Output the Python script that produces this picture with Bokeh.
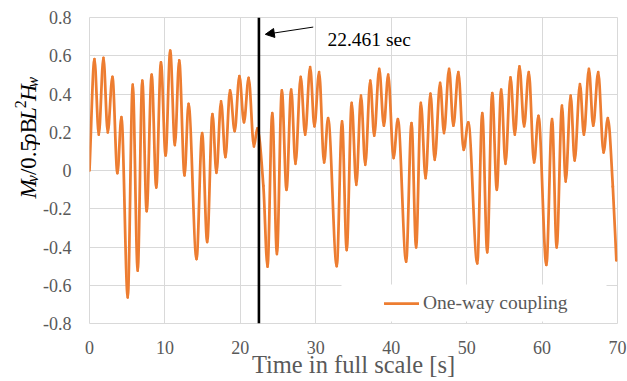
import math
from bokeh.plotting import figure
from bokeh.layouts import row
from bokeh.core.properties import value
from bokeh.models import (Range1d, FixedTicker, NumeralTickFormatter, Span, Label,
                          Arrow, NormalHead, Legend, LegendItem, BoxAnnotation,
                          ColumnDataSource)
from bokeh.embed import file_html
from bokeh.resources import INLINE

# ---------------- data ----------------
time_s = [
    0.00, 0.66, 1.23, 1.85, 2.42, 3.04, 3.70, 4.23, 5.07, 5.73,
    6.39, 7.00, 7.58, 8.24, 8.85, 9.47, 10.09, 10.70, 11.32, 11.89,
    12.60, 13.13, 14.19, 14.93, 15.60, 16.30, 16.83, 17.44, 18.02, 18.63,
    19.25, 19.87, 20.48, 21.10, 21.80, 22.25, 23.05, 23.60, 24.23, 24.85,
    25.50, 26.12, 26.74, 27.31, 28.00, 28.59, 29.25, 29.82, 30.44, 31.10,
    31.63, 32.78, 33.48, 34.10, 34.76, 35.37, 35.99, 36.56, 37.22, 37.75,
    38.41, 39.03, 39.60, 40.31, 40.88, 41.98, 42.69, 43.30, 43.93, 44.56,
    45.20, 45.77, 46.48, 47.00, 47.67, 48.24, 48.90, 49.60, 50.22, 51.41,
    52.07, 52.73, 53.39, 54.00, 54.58, 55.15, 55.81, 56.39, 57.00, 57.62,
    58.24, 58.94, 59.52, 60.57, 61.32, 61.94, 62.64, 63.13, 63.79, 64.32,
    65.02, 65.55, 66.21, 66.78, 67.44, 68.15, 68.72, 69.38, 69.85,
]
moment = [
    0.000, 0.583, 0.187, 0.589, 0.199, 0.489, -0.014, 0.279, -0.664, 0.449,
    -0.524, 0.470, -0.213, 0.501, -0.089, 0.566, 0.079, 0.627, 0.133, 0.576,
    -0.026, 0.348, -0.463, 0.196, -0.374, 0.295, -0.012, 0.362, 0.070, 0.419,
    0.206, 0.493, 0.252, 0.484, 0.126, 0.220, -0.080, -0.503, 0.300, -0.437,
    0.419, -0.101, 0.423, 0.035, 0.489, 0.187, 0.541, 0.231, 0.515, 0.042,
    0.274, -0.500, 0.257, -0.416, 0.353, -0.075, 0.391, 0.030, 0.470, 0.182,
    0.531, 0.234, 0.501, 0.065, 0.269, -0.477, 0.248, -0.402, 0.353, -0.040,
    0.402, 0.056, 0.458, 0.196, 0.531, 0.234, 0.514, 0.108, 0.252, -0.486,
    0.300, -0.428, 0.405, -0.101, 0.423, 0.035, 0.487, 0.187, 0.545, 0.231,
    0.514, 0.042, 0.286, -0.494, 0.269, -0.402, 0.339, -0.058, 0.391, 0.052,
    0.452, 0.187, 0.531, 0.234, 0.514, 0.094, 0.274, -0.084, -0.470,
]
assert len(time_s) == len(moment)

x_ticks = [0, 10, 20, 30, 40, 50, 60, 70]
y_ticks = [-0.8, -0.6, -0.4, -0.2, 0, 0.2, 0.4, 0.6, 0.8]
event_time = 22.461
event_label = f"{event_time} sec"
series_name = "One-way coupling"
x_title = "Time in full scale [s]"
# y title pieces: (text, font style, role)
y_title_parts = [("M", "italic", "main"), ("v", "italic", "sub"), ("/0.5", "normal", "main"),
                 ("ρ", "italic", "main"), ("B", "normal", "main"), ("L", "italic", "main"),
                 ("2", "normal", "sup"), ("H", "italic", "main"), ("w", "italic", "sub")]

# ---------------- styling ----------------
ORANGE = "#ED7D31"
GRID = "#D9D9D9"
GRAY = "#595959"
SERIF = "'Liberation Serif', 'Times New Roman', serif"
TITLE_W = 40  # width of the strip holding the vertical title

p = figure(width=627 - TITLE_W, height=381, output_backend="svg", toolbar_location=None,
           x_range=Range1d(0, 70), y_range=Range1d(-0.8, 0.8),
           min_border_left=88 - TITLE_W, min_border_right=10, min_border_top=17,
           min_border_bottom=58)
p.outline_line_color = GRID
p.background_fill_color = "white"
p.border_fill_color = "white"

p.xaxis.ticker = FixedTicker(ticks=x_ticks)
p.yaxis.ticker = FixedTicker(ticks=y_ticks)
p.yaxis.formatter = NumeralTickFormatter(format="0.[0]")
for ax in (p.xaxis[0], p.yaxis[0]):
    ax.axis_line_color = None
    ax.major_tick_line_color = None
    ax.minor_tick_line_color = None
    ax.major_tick_out = 0
    ax.major_tick_in = 0
    ax.major_label_text_font = SERIF
    ax.major_label_text_font_size = "18px"
    ax.major_label_text_color = GRAY
p.xaxis.major_label_standoff = 17
p.yaxis.major_label_standoff = 18
p.xaxis.axis_label = x_title
p.xaxis.axis_label_text_font = SERIF
p.xaxis.axis_label_text_font_size = "24.5px"
p.xaxis.axis_label_text_font_style = "normal"
p.xaxis.axis_label_text_color = GRAY
p.xaxis.axis_label_standoff = -6
p.grid.grid_line_color = GRID
p.grid.grid_line_width = 1

# white legend area hiding the grid
p.add_layout(BoxAnnotation(left=252, right=517, bottom=2, top=39,
                           left_units="screen", right_units="screen",
                           bottom_units="screen", top_units="screen",
                           fill_color="white", fill_alpha=1.0, line_color=None,
                           level="underlay"))

# ---------------- smooth curve through the read points (cubic Bezier) ----------------
n = len(time_s)
slopes = [(moment[i + 1] - moment[i]) / (time_s[i + 1] - time_s[i]) for i in range(n - 1)]
tang = [0.0] * n
tang[0] = slopes[0]
tang[-1] = slopes[-1]
for i in range(1, n - 1):
    d1, d2 = slopes[i - 1], slopes[i]
    if d1 * d2 <= 0:
        tang[i] = 0.0
    else:
        h1 = time_s[i] - time_s[i - 1]
        h2 = time_s[i + 1] - time_s[i]
        w1, w2 = 2 * h2 + h1, h2 + 2 * h1
        tang[i] = (w1 + w2) / (w1 / d1 + w2 / d2)

x0, y0, x1, y1, cx0, cy0, cx1, cy1 = ([] for _ in range(8))
for i in range(n - 1):
    h = time_s[i + 1] - time_s[i]
    x0.append(time_s[i]); y0.append(moment[i])
    x1.append(time_s[i + 1]); y1.append(moment[i + 1])
    cx0.append(time_s[i] + h / 3); cy0.append(moment[i] + tang[i] * h / 3)
    cx1.append(time_s[i + 1] - h / 3); cy1.append(moment[i + 1] - tang[i + 1] * h / 3)
src = ColumnDataSource(dict(x0=x0, y0=y0, x1=x1, y1=y1, cx0=cx0, cy0=cy0, cx1=cx1, cy1=cy1))
curve = p.bezier(x0="x0", y0="y0", x1="x1", y1="y1", cx0="cx0", cy0="cy0",
                 cx1="cx1", cy1="cy1", source=src, line_color=ORANGE,
                 line_width=2.75, line_cap="round")

# ---------------- event marker ----------------
p.add_layout(Span(location=event_time, dimension="height", line_color="black",
                  line_width=2.6))
p.add_layout(Arrow(end=NormalHead(size=9, fill_color="black", line_color="black"),
                   x_start=event_time + 7.2, y_start=0.75,
                   x_end=event_time + 0.85, y_end=0.712,
                   line_color="black", line_width=1))
p.add_layout(Label(x=event_time, y=284, y_units="screen", x_offset=68.5,
                   text=event_label, text_font=SERIF, text_font_size="19.5px",
                   text_color="black", text_baseline="alphabetic", text_align="left"))

# ---------------- legend ----------------
legend = Legend(items=[LegendItem(label=series_name, renderers=[curve])],
                location=(295, 9), margin=0, padding=0, spacing=0,
                border_line_color=None, background_fill_alpha=0,
                glyph_width=35, glyph_height=20, label_height=20, label_standoff=4,
                label_text_font=SERIF, label_text_font_size="19.5px",
                label_text_color=GRAY)
p.add_layout(legend)

# ---------------- vertical title strip (pixel coordinates) ----------------
fy = figure(width=TITLE_W, height=381, output_backend="svg", toolbar_location=None,
            x_range=Range1d(0, TITLE_W), y_range=Range1d(381, 0),
            x_axis_type=None, y_axis_type=None, min_border=0)
fy.outline_line_color = None
fy.background_fill_color = "white"
fy.border_fill_color = "white"

em = {("M", "italic"): 0.833, ("v", "italic"): 0.444, ("ρ", "italic"): 0.52,
      ("L", "italic"): 0.556, ("H", "italic"): 0.722, ("w", "italic"): 0.667,
      ("/0.5", "normal"): 1.528, ("B", "normal"): 0.667, ("2", "normal"): 0.5}
main_px, small_px = 23, 16
shift = {"main": 0, "sub": 4, "sup": -8}
gap_after = {"M": 1, "v": 2, "/0.5": 3, "ρ": 2, "B": 1, "L": 2, "2": 1}
advs, sizes = [], []
for txt, sty, role in y_title_parts:
    size = main_px if role == "main" else small_px
    sizes.append(size)
    advs.append(em[(txt, sty)] * size + gap_after.get(txt, 0))
total = sum(advs)
base_x = 27.5
pos = 151 + total / 2
tx, ty, tt, ts, tsz = [], [], [], [], []
for (txt, sty, role), adv, size in zip(y_title_parts, advs, sizes):
    tx.append(base_x + shift[role]); ty.append(pos); tt.append(txt)
    ts.append(sty); tsz.append(f"{size}px")
    pos -= adv
ysrc = ColumnDataSource(dict(x=tx, y=ty, text=tt, style=ts, size=tsz))
fy.text(x="x", y="y", text="text", source=ysrc, angle=math.pi / 2,
        text_font=value(SERIF), text_font_style="style", text_font_size="size",
        text_color="black", text_align="left", text_baseline="alphabetic")

layout = row(fy, p, spacing=0)
open("out.html", "w").write(file_html(layout, INLINE))
